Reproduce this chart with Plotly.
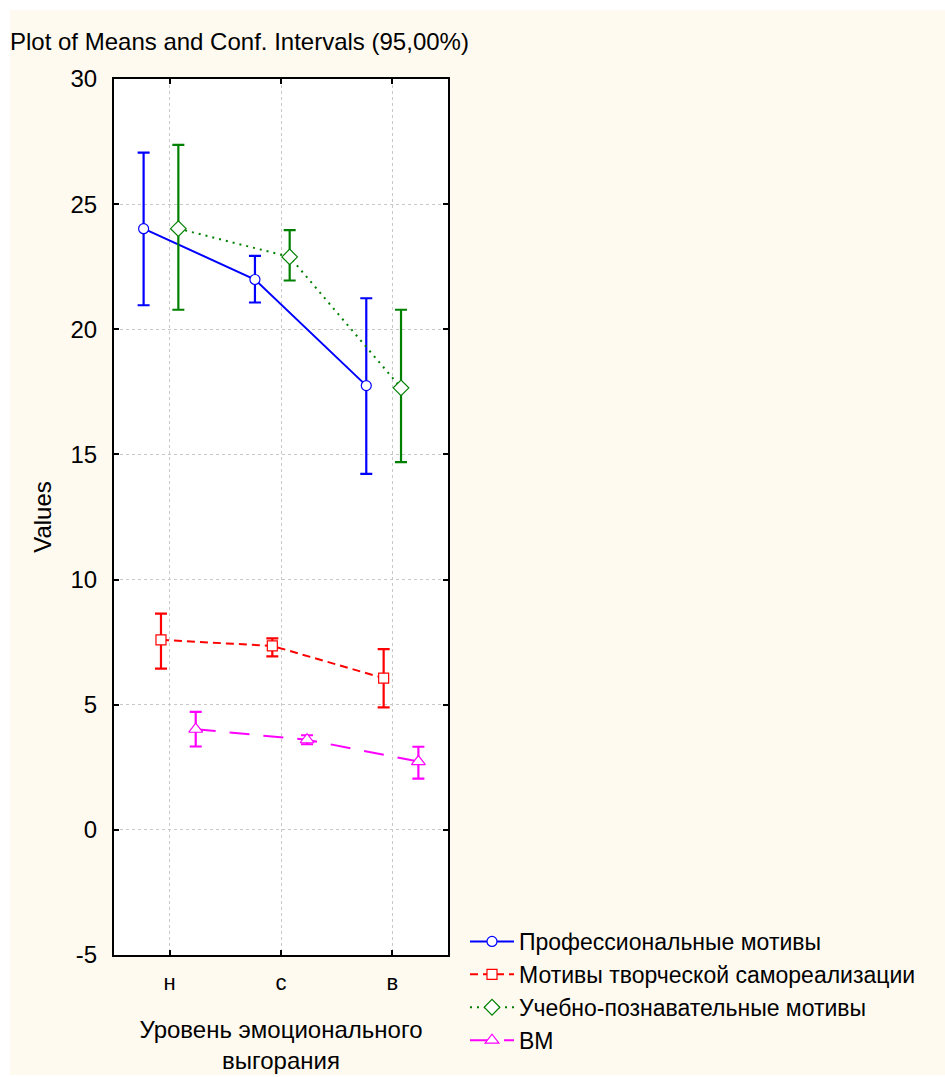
import plotly.graph_objects as go

categories = ["н", "с", "в"]
series_names = ["Профессиональные мотивы", "Мотивы творческой самореализации",
                "Учебно-познавательные мотивы", "ВМ"]
means_prof = [24.02, 21.99, 17.75]
upper_prof = [27.06, 22.93, 21.24]
lower_prof = [20.96, 21.07, 14.22]
means_creat = [7.59, 7.35, 6.06]
upper_creat = [8.64, 7.65, 7.22]
lower_creat = [6.44, 6.93, 4.89]
means_learn = [24.02, 22.89, 17.66]
upper_learn = [27.37, 23.96, 20.78]
lower_learn = [20.78, 21.95, 14.69]
means_vm = [4.02, 3.60, 2.73]
upper_vm = [4.71, 3.78, 3.32]
lower_vm = [3.33, 3.42, 2.05]

series = [
    (means_prof, upper_prof, lower_prof, "#0000FF", "solid", "circle", 10, -0.234),
    (means_creat, upper_creat, lower_creat, "#FF0000", "8px,5px", "square", 10, -0.078),
    (means_learn, upper_learn, lower_learn, "#008000", "2px,5px", "diamond", 12, 0.078),
    (means_vm, upper_vm, lower_vm, "#FF00FF", "20px,14px", "triangle-up", 12, 0.234),
]

fig = go.Figure()
for name, (m, up, lo, col, dash, sym, msz, off) in zip(series_names, series):
    xs = [i + off for i in range(len(categories))]
    fig.add_trace(go.Scatter(
        x=xs, y=m, name=name, mode="lines+markers",
        line=dict(color=col, width=2, dash=dash),
        marker=dict(symbol=sym, size=msz, color="white", line=dict(color=col, width=1.2)),
        error_y=dict(type="data", symmetric=False,
                     array=[u - v for u, v in zip(up, m)],
                     arrayminus=[v - l for v, l in zip(m, lo)],
                     color=col, thickness=2.2, width=6),
    ))

W, H = 945, 1077
L, R, T, B = 114, 448, 79, 955
cream = "#FFFAF0"
PW, PH = R - L, B - T

fig.update_layout(
    width=W, height=H,
    margin=dict(l=L, r=W - R, t=T, b=H - B, autoexpand=False),
    paper_bgcolor="white",
    plot_bgcolor="white",
    font=dict(family="Liberation Sans, Arial, sans-serif", color="black", size=24),
    title=dict(text="Plot of Means and Conf. Intervals (95,00%)",
               x=10 / W, xref="container", xanchor="left",
               y=1 - 42 / H, yref="container", yanchor="middle",
               font=dict(size=24)),
    showlegend=True,
    legend=dict(x=(465 - L) / PW, xanchor="left",
                y=(B - 920) / PH, yanchor="top",
                bgcolor="rgba(0,0,0,0)", font=dict(size=23),
                tracegroupgap=0, itemwidth=44),
    shapes=[
        dict(type="rect", xref="paper", yref="paper", layer="below",
             x0=(10 - L) / PW, x1=(W - L) / PW,
             y0=(B - 1075) / PH, y1=(B - 10) / PH,
             fillcolor=cream, line=dict(width=0)),
        dict(type="rect", xref="paper", yref="paper", layer="below",
             x0=0, x1=1, y0=0, y1=1,
             fillcolor="white", line=dict(width=0)),
    ],
    xaxis=dict(
        range=[-0.5, 2.5], tickmode="array", tickvals=[0, 1, 2], ticktext=categories,
        showline=True, linecolor="black", linewidth=2, mirror="ticks",
        ticks="inside", ticklen=5, tickwidth=2, tickcolor="black",
        showgrid=True, gridcolor="#C8C8C8", griddash="dot", gridwidth=1,
        zeroline=False, tickfont=dict(size=22), ticklabelstandoff=7,
        automargin=False,
        title=dict(text="Уровень эмоционального<br>выгорания", font=dict(size=24), standoff=27),
    ),
    yaxis=dict(
        range=[-5, 30], tickmode="array", tickvals=[-5, 0, 5, 10, 15, 20, 25, 30],
        ticktext=["-5", "0", "5", "10", "15", "20", "25", "30"],
        showline=True, linecolor="black", linewidth=2, mirror="ticks",
        ticks="inside", ticklen=5, tickwidth=2, tickcolor="black",
        showgrid=True, gridcolor="#C8C8C8", griddash="dot", gridwidth=1,
        zeroline=False, tickfont=dict(size=24), ticklabelstandoff=10,
        automargin=False,
        title=dict(text="Values", font=dict(size=24), standoff=12),
    ),
)

fig.write_html("out.html", config={"displayModeBar": False},
               post_script=("document.body.style.margin='0';"
                            "document.body.style.overflow='hidden';"))
